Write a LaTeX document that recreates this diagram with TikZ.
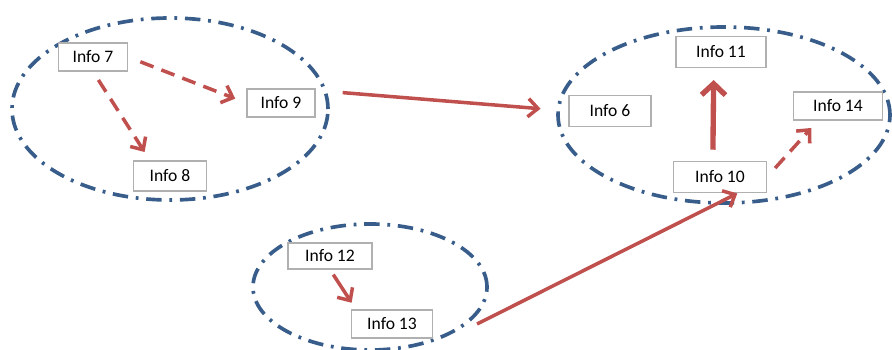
\documentclass[tikz,border=0pt]{standalone}
\usepackage{fontspec}
\setmainfont{Carlito}
\usepackage{xcolor}
\usetikzlibrary{arrows.meta}
\definecolor{iblue}{HTML}{385D8A}
\definecolor{ired}{HTML}{C0504D}
\definecolor{igray}{HTML}{B0B0B0}

\begin{document}
\begin{tikzpicture}[font=\fontsize{12.5}{15}\selectfont,
    info/.style={draw=igray, line width=0.8pt, fill=white, minimum height=0.7cm, inner sep=2pt},
    group/.style={draw=iblue, line width=2.6pt, dash pattern=on 11pt off 5.5pt on 2pt off 5.5pt},
    link/.style={draw=ired, line width=2.5pt, -{Straight Barb[length=7pt,width=13pt]}},
    hint/.style={link, dash pattern=on 10pt off 6pt}]

    \useasboundingbox (0,0) rectangle (22.3,8.75);

    % groups
    \draw[group] (4.25,6.025) ellipse [x radius=3.95, y radius=2.275];
    \draw[group] (18.1,5.875) ellipse [x radius=4.15, y radius=2.2];
    \draw[group] (9.25,1.575) ellipse [x radius=2.925, y radius=1.575];

    % --- boxes -----------------------------------------------------------
    \node[info, minimum width=1.725cm] (info7)  at (2.325,7.325) {Info 7};
    \node[info, minimum width=1.7cm]   (info9)  at (7.025,6.175) {Info 9};
    \node[info, minimum width=1.825cm, minimum height=0.75cm] (info8) at (4.25,4.35) {Info 8};
    \node[info, minimum width=2.25cm, minimum height=0.775cm] (info11) at (18.025,7.45) {Info 11};
    \node[info, minimum width=2.05cm, minimum height=0.775cm] (info6) at (15.25,5.975) {Info 6};
    \node[info, minimum width=2.225cm]  (info14) at (20.95,6.1) {Info 14};
    \node[info, minimum width=2.325cm, minimum height=0.775cm] (info10) at (18.0,4.325) {Info 10};
    \node[info, minimum width=2.1cm, minimum height=0.65cm] (info12) at (8.25,2.35) {Info 12};
    \node[info, minimum width=2.025cm] (info13) at (9.8,0.65) {Info 13};

    % --- links -----------------------------------------------------------
    \draw[hint, shorten <=0.33cm, shorten >=0.3cm] (info7.east) -- (info9.west);
    \draw[hint, shorten <=0.25cm, shorten >=0.25cm] (info7.south) -- ([xshift=-0.5cm]info8.north);
    \draw[link, shorten <=0.68cm, shorten >=0.7cm] (info9.20) -- (info6.west);
    \draw[link, line width=3.8pt, -{Straight Barb[length=8pt,width=17pt]},
          shorten <=0.28cm, shorten >=0.3cm] ([xshift=-0.18cm]info10.north) -- ([xshift=-0.18cm]info11.south);
    \draw[hint, shorten <=0.3cm, shorten >=0.25cm] (info10.east) -- ([xshift=-0.5cm]info14.south);
    \draw[link, shorten <=0.15cm, shorten >=0.2cm] (info12.south) -- ([xshift=-0.9cm]info13.north);
    \draw[link, shorten >=0.02cm] ([xshift=1.1cm]info13.east) -- ([xshift=0.45cm]info10.south);
  \end{tikzpicture}
\end{document}
